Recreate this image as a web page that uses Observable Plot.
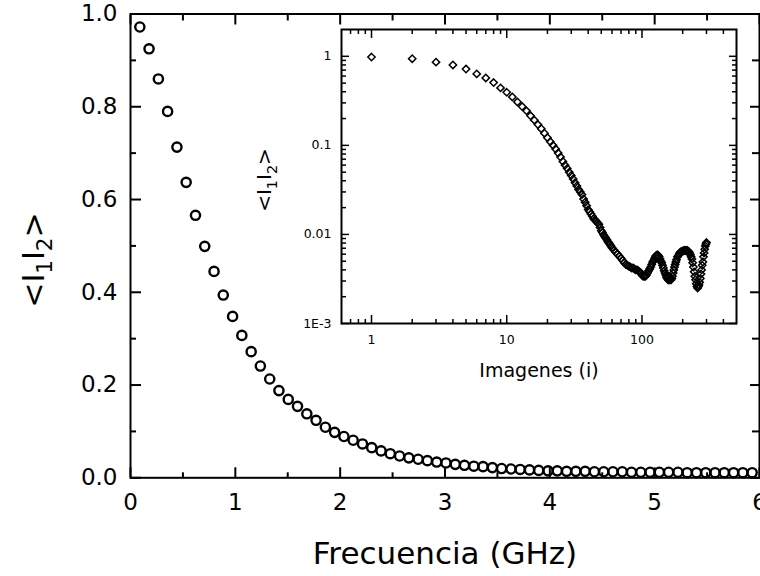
<!DOCTYPE html>
<html><head><meta charset="utf-8">
<script src="https://cdn.jsdelivr.net/npm/d3@7"></script>
<script src="https://cdn.jsdelivr.net/npm/@observablehq/plot@0.6"></script>
<style>
html,body{margin:0;padding:0;background:#fff;}
#wrap{position:relative;width:760px;height:576px;overflow:hidden;background:#fff;}
#main{position:absolute;left:0;top:0;}
#inset{position:absolute;left:240px;top:20px;}
</style></head><body><div id="wrap"><div id="main"></div><div id="inset"></div></div>
<script>
// ---- main panel data ----
const mainFreq = [0.089,0.177,0.266,0.354,0.443,0.531,0.620,0.708,0.797,0.885,
  0.974,1.062,1.151,1.239,1.328,1.416,1.505,1.593,1.682,1.770,
  1.859,1.947,2.036,2.124,2.213,2.301,2.390,2.478,2.567,2.655,
  2.744,2.832,2.921,3.009,3.098,3.186,3.275,3.363,3.452,3.540,
  3.629,3.717,3.806,3.894,3.983,4.071,4.160,4.248,4.337,4.425,
  4.514,4.602,4.691,4.779,4.868,4.956,5.045,5.133,5.222,5.310,
  5.399,5.487,5.576,5.664,5.753,5.841,5.930];
const mainCorr = [0.972,0.925,0.860,0.790,0.713,0.637,0.566,0.499,0.445,0.394,
  0.348,0.307,0.272,0.241,0.213,0.188,0.169,0.154,0.138,0.124,
  0.109,0.098,0.089,0.081,0.073,0.065,0.058,0.052,0.047,0.043,
  0.040,0.037,0.034,0.032,0.029,0.027,0.025,0.024,0.022,0.020,
  0.019,0.018,0.017,0.016,0.015,0.015,0.014,0.014,0.014,0.013,
  0.013,0.013,0.013,0.012,0.012,0.012,0.012,0.012,0.012,0.011,
  0.011,0.011,0.011,0.011,0.011,0.011,0.011];
const mainXTicks = [0,1,2,3,4,5,6];
const mainXMinor = [0.5,1.5,2.5,3.5,4.5,5.5];
const mainYTicks = [0,0.2,0.4,0.6,0.8,1.0];
const mainYMinor = [0.1,0.3,0.5,0.7,0.9];
const mainXTitle = "Frecuencia (GHz)";
const yLabelParts = [["<I",false],["1",true],["I",false],["2",true],[">",false]];

// ---- inset data ----
const insetImg = [1,2,3,4,5,6,7,8,9,10,11,12,13,14,15,16,17,18,19,20,
  21,22,23,24,25,26,27,28,29,30,31,32,33,34,35,36,37,38,39,40,
  41,42,43,44,45,46,47,48,49,50,51,52,53,54,55,56,57,58,59,60,
  62,64,66,68,70,72,74,76,78,80,82,84,86,88,90,92,94,96,98,100,
  102,104,106,108,110,112,114,116,118,120,122,124,126,128,130,132,134,136,138,140,
  142,144,146,148,150,152,154,156,158,160,162,164,166,168,170,172,174,176,178,180,
  183,186,189,192,195,198,201,204,207,210,213,216,219,222,225,228,231,234,237,240,
  243,246,249,252,255,258,261,264,267,270,273,276,279,282,285,288,291,294,297,300];
const insetCorr = [0.98,0.94,0.86,0.80,0.72,0.635,0.572,0.507,0.442,0.394,
  0.350,0.307,0.273,0.244,0.215,0.192,0.171,0.154,0.137,0.122,
  0.110,0.100,0.091,0.082,0.074,0.066,0.060,0.055,0.050,0.046,
  0.042,0.038,0.035,0.032,0.030,0.028,0.025,0.023,0.021,0.019,
  0.018,0.017,0.016,0.015,0.0145,0.014,0.0135,0.013,0.012,0.011,
  0.0105,0.0099,0.0095,0.0091,0.0087,0.0083,0.0080,0.0077,0.0074,0.0071,
  0.0067,0.0063,0.0060,0.0057,0.0054,0.0051,0.0048,0.0046,0.0045,0.0044,
  0.0043,0.0042,0.0042,0.0041,0.0040,0.0040,0.0039,0.0038,0.0037,0.0035,
  0.0034,0.0034,0.0034,0.0035,0.0037,0.0039,0.0041,0.0043,0.0046,0.0049,
  0.0051,0.0054,0.0057,0.0058,0.0059,0.0058,0.0056,0.0053,0.0050,0.0048,
  0.0045,0.0042,0.0039,0.0037,0.0035,0.0033,0.0032,0.0031,0.0031,0.0031,
  0.0031,0.0031,0.0032,0.0034,0.0037,0.0040,0.0043,0.0046,0.0049,0.0052,
  0.0056,0.0058,0.0061,0.0063,0.0064,0.0065,0.0065,0.0066,0.0066,0.0066,
  0.0066,0.0066,0.0065,0.0064,0.0062,0.0059,0.0056,0.0053,0.0048,0.0043,
  0.0038,0.0034,0.0031,0.0028,0.0026,0.0025,0.0026,0.0027,0.0029,0.0032,
  0.0036,0.0040,0.0045,0.0049,0.0056,0.0062,0.0068,0.0074,0.0078,0.0081];
const insetXTicks = [1,10,100];
const insetXTickText = ["1","10","100"];
const insetXMinor = [0.7,0.8,0.9,2,3,4,5,6,7,8,9,20,30,40,50,60,70,80,90,200,300,400];
const insetYTicks = [1,0.1,0.01,0.001];
const insetYTickText = ["1","0.1","0.01","1E-3"];
const insetYMinor = [0.002,0.003,0.004,0.005,0.006,0.007,0.008,0.009,
  0.02,0.03,0.04,0.05,0.06,0.07,0.08,0.09,0.2,0.3,0.4,0.5,0.6,0.7,0.8,0.9];
const insetXTitle = "Imagenes (i)";

const FONT = "DejaVu Sans, sans-serif";

function addSubLabel(svg, x, y, fs, parts) {
  const t = d3.select(svg).append("text")
    .attr("transform", `translate(${x},${y}) rotate(-90)`)
    .attr("text-anchor", "middle").attr("font-family", FONT)
    .attr("font-size", fs).attr("fill", "black");
  let shifted = false;
  for (const [s, sub] of parts) {
    const ts = t.append("tspan").text(s);
    if (sub) {
      ts.attr("font-size", fs * 0.72);
      if (!shifted) { ts.attr("dy", fs * 0.28); shifted = true; }
    } else {
      ts.attr("font-size", fs);
      if (shifted) { ts.attr("dy", -fs * 0.28); shifted = false; }
    }
  }
}

const mainData = mainFreq.map((f, i) => ({f, c: mainCorr[i]}));
const tk = {strokeWidth: 2, fill: "none", label: null};
const main = Plot.plot({
  width: 760, height: 576,
  marginLeft: 130, marginRight: 1, marginTop: 13.5, marginBottom: 98.7,
  style: {fontFamily: FONT, background: "white", color: "black"},
  x: {domain: [0, 6]},
  y: {domain: [0, 1]},
  marks: [
    Plot.axisX(mainXTicks, {anchor: "bottom", tickSize: -10, ...tk}),
    Plot.axisX(mainXMinor, {anchor: "bottom", tickSize: -5, ...tk}),
    Plot.axisX(mainXTicks, {anchor: "top", tickSize: -10, ...tk}),
    Plot.axisX(mainXMinor, {anchor: "top", tickSize: -6, ...tk}),
    Plot.axisY(mainYTicks, {anchor: "left", tickSize: -11, ...tk}),
    Plot.axisY(mainYMinor, {anchor: "left", tickSize: -6, ...tk}),
    Plot.axisY(mainYTicks, {anchor: "right", tickSize: -10, ...tk}),
    Plot.axisY(mainYMinor, {anchor: "right", tickSize: -8, ...tk}),
    Plot.axisX(mainXTicks, {anchor: "bottom", tickSize: 0, tickPadding: 16, fontSize: 23, tickFormat: d => String(d), label: null, fill: "black"}),
    Plot.axisY(mainYTicks, {anchor: "left", tickSize: 0, tickPadding: 13, fontSize: 23, tickFormat: d3.format(".1f"), label: null, fill: "black"}),
    Plot.frame({stroke: "black", strokeWidth: 2}),
    Plot.dot(mainData, {x: "f", y: "c", r: 4.6, stroke: "black", strokeWidth: 2.4, fill: "none"}),
    Plot.text([mainXTitle], {text: d => d, frameAnchor: "bottom", lineAnchor: "bottom", dy: 86, fontSize: 31, fill: "black"})
  ]
});
document.getElementById("main").appendChild(main);
addSubLabel(main, 44, 260, 30, yLabelParts);

const insetData = insetImg.map((i, k) => ({i, c: insetCorr[k]}));
const tk2 = {strokeWidth: 1.5, fill: "none", label: null};
const inset = Plot.plot({
  width: 510, height: 370,
  marginLeft: 101, marginRight: 14, marginTop: 9, marginBottom: 67,
  style: {fontFamily: FONT, background: "transparent", color: "black"},
  x: {type: "log", domain: [0.6, 500]},
  y: {type: "log", domain: [0.001, 2]},
  marks: [
    Plot.axisX(insetXTicks, {anchor: "bottom", tickSize: -8, ...tk2}),
    Plot.axisX(insetXMinor, {anchor: "bottom", tickSize: -4, ...tk2}),
    Plot.axisX(insetXTicks, {anchor: "top", tickSize: -8, ...tk2}),
    Plot.axisX(insetXMinor, {anchor: "top", tickSize: -4, ...tk2}),
    Plot.axisY(insetYTicks, {anchor: "left", tickSize: -8, ...tk2}),
    Plot.axisY(insetYMinor, {anchor: "left", tickSize: -5, ...tk2}),
    Plot.axisY(insetYTicks, {anchor: "right", tickSize: -8, ...tk2}),
    Plot.axisY(insetYMinor, {anchor: "right", tickSize: -5, ...tk2}),
    Plot.axisX(insetXTicks, {anchor: "bottom", tickSize: 0, tickPadding: 12, fontSize: 12.5, tickFormat: d => insetXTickText[insetXTicks.indexOf(d)], label: null, fill: "black"}),
    Plot.axisY(insetYTicks, {anchor: "left", tickSize: 0, tickPadding: 10, fontSize: 12.5, tickFormat: d => insetYTickText[insetYTicks.indexOf(d)], label: null, fill: "black"}),
    Plot.frame({stroke: "black", strokeWidth: 2}),
    Plot.dot(insetData, {x: "i", y: "c", symbol: "diamond2", r: 3.3, stroke: "black", strokeWidth: 1.5, fill: "none"}),
    Plot.text([insetXTitle], {text: d => d, frameAnchor: "bottom", lineAnchor: "bottom", dy: 53, fontSize: 19, fill: "black"})
  ]
});
document.getElementById("inset").appendChild(inset);
addSubLabel(inset, 31, 160, 20, yLabelParts);
</script></body></html>
